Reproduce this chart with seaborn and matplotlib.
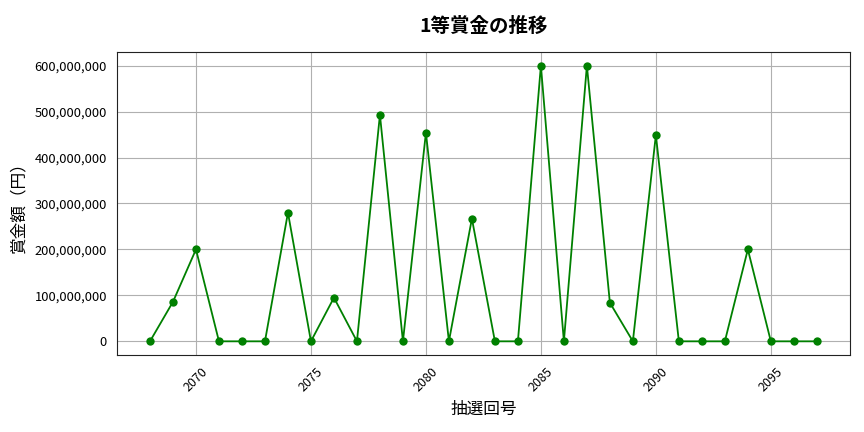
import pandas as pd
import seaborn as sns
import matplotlib
matplotlib.use("Agg")
from matplotlib import pyplot as plt
from matplotlib.ticker import FuncFormatter

# draw numbers and 1st-prize amounts (yen)
draws = list(range(2068, 2098))
prize = [
    0, 86_000_000, 200_000_000, 0, 0, 0, 280_000_000, 0, 95_000_000, 0,
    493_000_000, 0, 454_000_000, 0, 267_000_000, 0, 0, 600_000_000, 0, 600_000_000,
    84_000_000, 0, 449_000_000, 0, 0, 0, 200_000_000, 0, 0, 0,
]

df = pd.DataFrame({'draw': draws, 'prize': prize})

sns.set_style('white', {'text.color': 'black', 'axes.labelcolor': 'black',
                        'xtick.color': 'black', 'ytick.color': 'black'})
plt.rcParams['font.family'] = ['Noto Sans CJK JP', 'DejaVu Sans']

fig, ax = plt.subplots(figsize=(8.64, 4.32), dpi=100)
sns.lineplot(data=df, x='draw', y='prize', marker='o', color='green',
             markersize=6, markeredgewidth=0, linewidth=1.3, ax=ax)

ax.set_title('1等賞金の推移', fontsize=14, fontweight='bold', pad=14)
ax.set_xlabel('抽選回号', fontsize=12, labelpad=5)
ax.set_ylabel('賞金額（円）', fontsize=12, labelpad=5)
ax.yaxis.set_major_formatter(FuncFormatter(lambda v, _: f'{int(v):,}'))
ax.tick_params(axis='x', rotation=45, labelsize=9)
ax.tick_params(axis='y', labelsize=9.3)
ax.grid(True, color='#b0b0b0', linewidth=0.8)
for s in ax.spines.values():
    s.set_color('#222222')

fig.subplots_adjust(left=0.135, right=0.984, top=0.88, bottom=0.178)
plt.savefig('out.png')
